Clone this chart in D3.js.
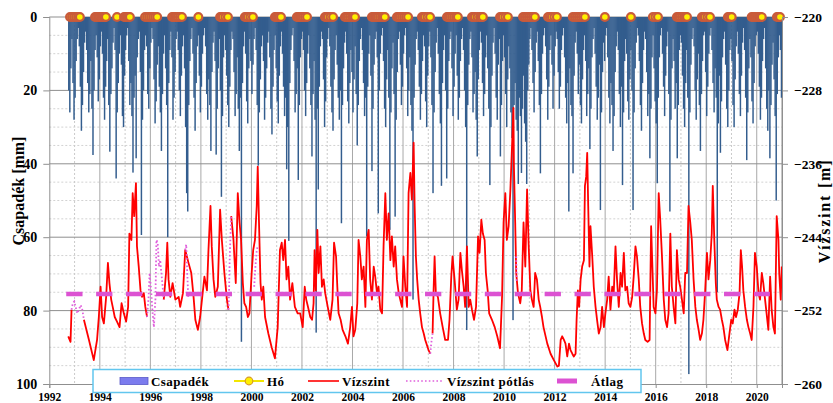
<!DOCTYPE html>
<html>
<head>
<meta charset="utf-8">
<script src="https://cdn.jsdelivr.net/npm/d3@7/dist/d3.min.js"></script>
<style>
  html, body { margin: 0; padding: 0; background: #fff; }
  svg { display: block; }
  text { font-family: "Liberation Serif", "Times New Roman", serif; font-weight: bold; fill: #000; }
</style>
</head>
<body>
<svg id="chart" width="833" height="403"></svg>
<script>
// ---- Data -------------------------------------------------------------

// Half-monthly maximum daily precipitation [mm], starting October 1992.
const precipStart = 1992.75;
const precipStep = 1 / 24;
const precipitation = [
  // 1992 (Oct-Dec)
  20, 26, 14, 6, 18, 28,
  // 1993
  22, 12, 6, 3, 8, 19, 31, 24, 15, 7, 4, 9, 18, 26, 21, 12, 25, 37.6, 20, 9, 5, 11, 23, 17,
  // 1994
  8, 4, 10, 22, 28, 19, 12, 6, 24, 36.7, 21, 14, 7, 3, 9, 44, 26, 18, 10, 5, 13, 27, 30, 16,
  // 1995
  9, 5, 3, 12, 24, 18, 27, 42.4, 22, 16, 38.5, 11, 6, 4, 15, 59.4, 28, 20, 9, 5, 8, 21, 25, 14,
  // 1996
  7, 3, 6, 17, 29, 23, 13, 8, 19, 26, 36.5, 21, 10, 5, 14, 24, 60, 18, 9, 4, 11, 28, 22, 15,
  // 1997
  6, 4, 9, 20, 27, 16, 8, 5, 14, 30, 48, 53, 24, 12, 6, 3, 10, 22, 31, 18, 8, 5, 16, 26,
  // 1998
  19, 10, 5, 3, 8, 21, 28, 17, 24, 36.5, 15, 7, 4, 12, 37.5, 25, 14, 6, 20, 49, 27, 11, 5, 9,
  // 1999
  16, 24, 30, 19, 9, 4, 6, 15, 27, 21, 11, 25, 36.5, 22, 88.5, 18, 8, 4, 10, 23, 29, 14, 6, 12,
  // 2000
  21, 13, 6, 3, 9, 24, 40.5, 26, 17, 8, 5, 12, 28, 22, 14, 7, 4, 11, 25, 32, 19, 9, 5, 14,
  // 2001
  23, 29, 16, 8, 4, 10, 19, 27, 22, 41.5, 30, 61, 18, 9, 5, 3, 12, 26, 21, 14, 44.4, 24, 11, 6,
  // 2002
  4, 9, 20, 27, 18, 10, 5, 14, 24, 38, 21, 12, 28, 86, 25, 47, 19, 8, 4, 6, 17, 30, 23, 11,
  // 2003
  6, 3, 8, 19, 26, 31, 17, 9, 5, 13, 22, 28, 20, 56.2, 24, 14, 7, 4, 10, 23, 29, 18, 9, 15,
  // 2004
  26, 17, 8, 21, 35, 24, 12, 6, 3, 9, 18, 27, 22, 59.8, 19, 10, 5, 16, 42, 25, 13, 6, 4, 11,
  // 2005
  53.5, 20, 10, 5, 3, 12, 25, 30, 17, 9, 22, 58, 26, 14, 7, 21, 54.4, 28, 15, 6, 4, 13, 24, 19,
  // 2006
  10, 5, 3, 14, 27, 20, 11, 24, 31, 77, 22, 13, 6, 4, 9, 19, 28, 21, 12, 5, 8, 23, 30, 16,
  // 2007
  8, 4, 11, 24, 48, 26, 15, 7, 3, 10, 21, 29, 46, 18, 9, 5, 20, 44, 25, 12, 6, 4, 14, 27,
  // 2008
  19, 10, 5, 16, 28, 22, 12, 6, 3, 9, 20, 30, 85.3, 24, 13, 6, 4, 11, 26, 21, 15, 28, 38, 17,
  // 2009
  9, 4, 7, 18, 27, 21, 11, 5, 14, 25, 45.8, 30, 16, 7, 3, 10, 22, 28, 13, 6, 38, 24, 12, 5,
  // 2010
  11, 21, 30, 17, 8, 14, 26, 33, 82.6, 24, 18, 28, 31, 45.5, 22, 27, 42.5, 25, 16, 29, 34, 45.5, 20, 13,
  // 2011
  6, 3, 9, 18, 26, 15, 7, 4, 12, 24, 42.6, 21, 10, 5, 3, 8, 17, 28, 19, 9, 5, 13, 25, 16,
  // 2012
  8, 4, 6, 15, 25, 19, 9, 5, 3, 11, 22, 29, 18, 53, 14, 24, 27, 42.6, 16, 7, 4, 10, 21, 13,
  // 2013
  24, 29, 17, 9, 5, 12, 27, 21, 14, 36, 25, 11, 6, 3, 10, 19, 28, 22, 13, 52.6, 26, 15, 7, 12,
  // 2014
  5, 3, 11, 22, 29, 18, 24, 36.5, 27, 15, 8, 4, 9, 21, 30, 19, 45.8, 26, 12, 6, 10, 23, 28, 17,
  // 2015
  9, 20, 52.6, 26, 14, 7, 3, 5, 12, 24, 31, 18, 9, 4, 6, 15, 27, 21, 38.5, 25, 11, 5, 14, 23,
  // 2016
  29, 45.3, 22, 11, 5, 3, 10, 19, 27, 16, 8, 4, 21, 53, 28, 14, 6, 12, 25, 18, 38.5, 24, 9, 5,
  // 2017
  7, 16, 25, 30, 18, 9, 22, 97.3, 26, 13, 6, 3, 8, 20, 28, 17, 10, 24, 36.5, 21, 12, 5, 4, 15,
  // 2018
  27, 19, 10, 5, 3, 9, 18, 26, 14, 22, 75, 29, 16, 37, 23, 11, 6, 4, 13, 25, 30, 20, 9, 6,
  // 2019
  12, 24, 30, 17, 8, 4, 10, 21, 27, 16, 7, 3, 9, 22, 39, 26, 14, 6, 11, 23, 29, 18, 8, 5,
  // 2020
  4, 10, 19, 28, 22, 12, 6, 3, 14, 25, 31, 20, 38.5, 24, 13, 7, 17, 27, 50, 21, 11, 5, 9, 22
];

// Days with snow cover (decimal year); plotted on the zero line.
const snowDays = [
  1992.82, 1992.90, 1992.98, 1993.06, 1993.14, 1993.21,
  1993.81, 1993.87, 1993.93, 1993.99, 1994.05, 1994.10, 1994.16, 1994.20, 1994.24,
  1994.68,
  1994.96, 1995.02, 1995.07, 1995.13, 1995.19,
  1995.79, 1995.87, 1995.95, 1996.03, 1996.11, 1996.19, 1996.27,
  1996.86, 1996.92, 1996.98, 1997.03, 1997.09, 1997.17, 1997.25,
  1997.90,
  1998.76, 1998.81, 1998.87, 1998.97, 1999.07,
  1999.74, 1999.80, 1999.86, 1999.96, 2000.06,
  2000.93, 2000.98, 2001.04, 2001.10, 2001.17,
  2001.80, 2001.86, 2001.92, 2001.98, 2002.04, 2002.12, 2002.20,
  2002.91, 2002.97, 2003.03, 2003.13, 2003.23,
  2003.70, 2003.76, 2003.82, 2003.90, 2003.98, 2004.04, 2004.10,
  2004.77, 2004.83, 2004.89, 2004.95, 2005.01, 2005.09, 2005.17, 2005.22, 2005.28,
  2005.76, 2005.82, 2005.88, 2005.96, 2006.04, 2006.12, 2006.20,
  2006.75, 2006.81, 2006.87, 2006.97, 2007.07,
  2007.74, 2007.80, 2007.86, 2007.94, 2008.02, 2008.10, 2008.17,
  2008.73, 2008.79, 2008.85, 2008.95, 2009.05, 2009.10, 2009.16,
  2009.84, 2009.90, 2009.95, 2010.05, 2010.15,
  2010.75, 2010.82, 2010.90, 2010.98, 2011.06, 2011.14, 2011.22,
  2011.74, 2011.81, 2011.89, 2011.99, 2012.09,
  2012.72, 2012.80, 2012.88, 2012.96, 2013.04, 2013.12, 2013.20,
  2013.99,
  2015.02,
  2015.89, 2015.99, 2016.09,
  2016.84, 2016.90, 2016.96, 2017.04, 2017.12, 2017.18, 2017.24,
  2017.83, 2017.89, 2017.95, 2018.05, 2018.15,
  2018.86, 2018.93, 2019.01,
  2019.80, 2019.86, 2019.92, 2020.00, 2020.08, 2020.14, 2020.20,
  2020.80, 2020.86, 2020.92
];

// Measured water level [m] (decimal year, level); null marks missing records.
const waterLevel = [
  [1992.75,-254.8],[1992.84,-255.4],[1992.88,-251.9],[1993.10,null],
  [1993.37,-253.0],[1993.57,-255.2],[1993.76,-257.4],[1993.89,-255.2],[1993.96,-252.7],[1994.03,-249.4],
  [1994.09,-252.7],[1994.16,-253.4],[1994.25,-250.5],[1994.32,-246.8],[1994.38,-249.0],[1994.45,-250.8],
  [1994.51,-251.6],[1994.59,-252.7],[1994.68,-253.2],[1994.78,-253.8],[1994.86,-251.2],[1994.95,-252.3],
  [1995.04,-253.2],[1995.12,-251.6],[1995.17,-243.6],[1995.25,-244.3],[1995.30,-239.2],[1995.36,-241.7],
  [1995.43,-238.1],[1995.47,-245.0],[1995.54,-247.2],[1995.61,-249.8],[1995.67,-250.5],[1995.74,-250.1],
  [1995.80,-251.6],[1995.87,-252.7],[1996.20,null],
  [1996.53,-250.8],[1996.62,-247.9],[1996.67,-244.6],[1996.72,-248.6],[1996.79,-250.5],[1996.88,-249.0],
  [1996.99,-250.8],[1997.12,-250.5],[1997.18,-251.6],[1997.29,-250.1],[1997.38,-245.4],[1997.51,-246.8],
  [1997.62,-247.9],[1997.71,-250.5],[1997.78,-253.0],[1997.88,-254.1],[1997.97,-252.7],[1998.07,-250.1],
  [1998.14,-248.3],[1998.24,-249.8],[1998.30,-245.4],[1998.38,-240.6],[1998.43,-245.0],[1998.50,-248.6],
  [1998.57,-250.5],[1998.67,-249.4],[1998.76,-241.0],[1998.83,-244.3],[1998.93,-247.9],[1999.03,-250.8],
  [1999.09,-251.9],[1999.15,null],
  [1999.20,-241.7],[1999.29,-244.3],[1999.38,-249.0],[1999.46,-239.2],[1999.53,-242.4],[1999.59,-244.3],
  [1999.66,-249.0],[1999.72,-251.2],[1999.79,-251.6],[1999.86,-252.7],[1999.92,-252.3],[2000.01,-247.9],
  [2000.07,-245.4],[2000.14,-244.3],[2000.21,-240.6],[2000.25,-236.3],[2000.30,-242.4],[2000.36,-249.0],
  [2000.41,-250.8],[2000.47,-249.4],[2000.54,-252.7],[2000.67,-254.5],[2000.80,-256.0],[2000.93,-257.2],
  [2001.04,-253.8],[2001.13,-245.4],[2001.20,-244.6],[2001.26,-246.5],[2001.33,-244.3],[2001.39,-248.6],
  [2001.46,-247.2],[2001.53,-250.8],[2001.62,-249.0],[2001.72,-251.6],[2001.83,-252.3],[2001.93,-252.3],
  [2002.03,-253.8],[2002.11,-249.4],[2002.17,-250.8],[2002.24,-251.6],[2002.33,-252.7],[2002.40,-253.0],
  [2002.46,-251.2],[2002.50,-245.4],[2002.55,-249.8],[2002.61,-243.2],[2002.66,-247.9],[2002.73,-245.0],
  [2002.79,-249.4],[2002.86,-248.6],[2002.92,-250.1],[2003.02,-251.6],[2003.12,-253.0],[2003.21,-250.8],
  [2003.27,-244.6],[2003.35,-246.1],[2003.40,-249.4],[2003.45,-252.3],[2003.53,-253.0],[2003.61,-254.1],
  [2003.72,-254.8],[2003.82,-255.6],[2003.91,-253.8],[2003.98,-251.6],[2004.04,-254.8],[2004.11,-254.1],
  [2004.19,-251.2],[2004.24,-244.3],[2004.31,-246.1],[2004.37,-248.6],[2004.44,-247.2],[2004.51,-251.6],
  [2004.57,-244.3],[2004.64,-243.2],[2004.70,-248.6],[2004.77,-250.8],[2004.84,-247.2],[2004.90,-248.3],
  [2004.97,-250.1],[2005.03,-249.4],[2005.10,-251.9],[2005.17,-252.3],[2005.23,-245.0],[2005.30,-239.2],
  [2005.36,-244.3],[2005.43,-241.4],[2005.50,-246.5],[2005.56,-243.9],[2005.63,-247.2],[2005.69,-245.0],
  [2005.76,-248.6],[2005.83,-250.1],[2005.89,-250.8],[2005.96,-251.6],[2006.02,-246.1],[2006.09,-249.4],
  [2006.16,-251.6],[2006.22,-239.2],[2006.29,-237.0],[2006.35,-239.9],[2006.42,-233.7],[2006.46,-240.6],
  [2006.51,-246.1],[2006.56,-248.6],[2006.62,-250.8],[2006.68,-252.3],[2006.75,-253.8],[2006.82,-254.5],
  [2006.88,-255.2],[2007.01,-256.3],[2007.08,-256.7],[2007.12,null],
  [2007.17,-254.5],[2007.21,-249.8],[2007.25,-246.1],[2007.30,-250.1],[2007.38,-250.5],[2007.47,-252.3],
  [2007.57,-253.8],[2007.67,-255.2],[2007.78,-255.2],[2007.84,-253.0],[2007.91,-248.3],[2007.96,-246.1],
  [2008.04,-248.6],[2008.13,-251.9],[2008.20,-250.8],[2008.27,-245.7],[2008.33,-247.6],[2008.40,-249.4],
  [2008.46,-251.6],[2008.53,-245.0],[2008.60,-251.6],[2008.66,-250.8],[2008.73,-251.9],[2008.81,-253.0],
  [2008.89,-251.6],[2008.97,-243.9],[2009.03,-245.7],[2009.10,-242.1],[2009.16,-243.6],[2009.23,-244.3],
  [2009.28,-247.9],[2009.35,-249.8],[2009.41,-252.3],[2009.52,-253.0],[2009.63,-253.8],[2009.73,-254.8],
  [2009.84,-256.1],[2009.92,-250.5],[2009.98,-242.4],[2010.05,-239.2],[2010.11,-244.3],[2010.18,-242.8],
  [2010.25,-238.8],[2010.31,-234.4],[2010.37,-229.9],[2010.39,-236.3],[2010.44,-242.4],[2010.48,-247.9],
  [2010.55,-250.1],[2010.64,-251.2],[2010.70,-249.8],[2010.77,-242.4],[2010.84,-247.2],[2010.91,-238.8],
  [2010.97,-244.6],[2011.04,-249.8],[2011.10,-250.8],[2011.17,-251.6],[2011.23,-247.9],[2011.30,-248.6],
  [2011.37,-250.8],[2011.43,-251.6],[2011.50,-252.7],[2011.56,-253.8],[2011.71,-255.6],[2011.84,-256.7],
  [2011.97,-257.4],[2012.11,-258.1],[2012.17,-258.0],[2012.24,-255.2],[2012.30,-254.8],[2012.37,-255.2],
  [2012.43,-255.6],[2012.50,-257.0],[2012.57,-255.6],[2012.63,-256.3],[2012.70,-256.7],[2012.76,-257.0],
  [2012.83,-256.7],[2012.87,-253.0],[2012.92,-249.8],[2012.97,-251.6],[2013.03,-248.6],[2013.09,-247.2],
  [2013.16,-246.5],[2013.20,-238.4],[2013.25,-237.4],[2013.29,-234.8],[2013.33,-240.6],[2013.38,-247.2],
  [2013.42,-242.8],[2013.49,-246.1],[2013.55,-249.4],[2013.62,-251.6],[2013.68,-253.0],[2013.75,-254.5],
  [2013.82,-253.8],[2013.88,-251.6],[2013.95,-253.8],[2014.01,-252.3],[2014.08,-250.8],[2014.14,-248.3],
  [2014.21,-251.9],[2014.28,-249.4],[2014.34,-250.1],[2014.41,-245.0],[2014.47,-248.6],[2014.54,-251.6],
  [2014.61,-247.9],[2014.67,-249.4],[2014.74,-245.7],[2014.80,-249.8],[2014.87,-249.4],[2014.93,-251.2],
  [2015.00,-251.6],[2015.07,-250.5],[2015.13,-248.3],[2015.20,-245.0],[2015.26,-246.1],[2015.33,-248.6],
  [2015.39,-251.6],[2015.46,-253.4],[2015.53,-254.5],[2015.59,-255.2],[2015.68,-255.4],[2015.76,-255.2],
  [2015.82,-242.8],[2015.87,-247.2],[2015.92,-251.6],[2015.99,-252.3],[2016.05,-249.8],[2016.12,-239.2],
  [2016.18,-242.1],[2016.25,-246.1],[2016.32,-250.8],[2016.38,-253.0],[2016.45,-253.8],[2016.51,-252.3],
  [2016.58,-243.6],[2016.64,-249.4],[2016.71,-251.6],[2016.78,-253.4],[2016.84,-245.4],[2016.91,-248.6],
  [2016.97,-249.4],[2017.04,-250.8],[2017.11,-252.3],[2017.17,-247.9],[2017.24,-247.9],[2017.30,-240.6],
  [2017.37,-242.4],[2017.43,-244.3],[2017.50,-248.6],[2017.57,-251.6],[2017.63,-253.0],[2017.70,-254.1],
  [2017.76,-255.2],[2017.83,-254.5],[2017.89,-253.0],[2017.96,-249.8],[2018.03,-245.7],[2018.09,-248.6],
  [2018.16,-246.5],[2018.22,-243.6],[2018.26,-238.4],[2018.32,-244.3],[2018.38,-249.0],[2018.42,-250.8],
  [2018.49,-251.6],[2018.55,-251.9],[2018.62,-253.0],[2018.68,-253.8],[2018.75,-255.2],[2018.84,-256.3],
  [2018.92,-254.5],[2018.99,-253.0],[2019.05,-253.4],[2019.12,-251.9],[2019.18,-252.7],[2019.25,-251.9],
  [2019.32,-250.1],[2019.37,-245.4],[2019.42,-247.2],[2019.47,-249.8],[2019.54,-251.6],[2019.61,-253.0],
  [2019.67,-253.8],[2019.74,-254.5],[2019.80,-255.2],[2019.87,-251.6],[2019.93,-245.7],[2020.00,-247.2],
  [2020.07,-250.1],[2020.13,-250.8],[2020.20,-247.9],[2020.26,-249.0],[2020.33,-250.8],[2020.39,-252.3],
  [2020.46,-254.1],[2020.53,-248.3],[2020.59,-251.9],[2020.66,-253.8],[2020.72,-254.5],[2020.79,-241.7],
  [2020.86,-244.3],[2020.89,-247.9],[2020.95,-250.8],[2020.99,-247.2]
];

// Supplemented (estimated) water level for the gaps [m].
const waterLevelFilled = [
  [1992.88,-251.9],[1992.93,-251.2],[1992.99,-251.0],[1993.04,-251.6],[1993.11,-252.3],[1993.17,-251.9],
  [1993.24,-251.4],[1993.30,-251.8],[1993.37,-253.0],[1993.40,null],
  [1995.87,-252.7],[1995.93,-250.5],[1995.97,-247.9],[1996.03,-249.8],[1996.09,-252.3],[1996.14,-253.8],
  [1996.20,-250.8],[1996.24,-244.3],[1996.29,-244.6],[1996.34,-247.2],[1996.39,-246.5],[1996.46,-248.6],
  [1996.53,-250.8],[1996.60,null],
  [1997.38,-245.4],[1997.42,-244.8],[1997.46,-247.9],[1997.50,-250.5],[1997.55,null],
  [1999.09,-251.9],[1999.11,-250.5],[1999.14,-246.5],[1999.17,-243.9],[1999.20,-241.7],[1999.25,null],
  [2000.11,-249.4],[2000.14,-247.9],[2000.20,-245.7],[2000.24,-245.0],[2000.28,null],
  [2007.08,-256.7],[2007.12,-255.5],[2007.17,-254.5],[2007.20,null],
  [2010.48,-246.1],[2010.49,-247.5],[2010.50,-249.0]
];

// Long-term mean water level [m] and the period it is drawn for.
const meanLevel = -250.2;
const meanPeriod = [1992.67, 2020.52];

// Axis ticks.
const precipTicks = [0, 20, 40, 60, 80, 100];
const levelTicks = [-220, -228, -236, -244, -252, -260];
const yearTicks = [1992, 1994, 1996, 1998, 2000, 2002, 2004, 2006, 2008, 2010, 2012, 2014, 2016, 2018, 2020];

// Legend entries.
const legendItems = ["Csapadék", "Hó", "Vízszint", "Vízszint pótlás", "Átlag"];

// ---- Layout ----------------------------------------------------------
const svg = d3.select("#chart");
const plotL = 49.3, plotR = 782, plotT = 17, plotB = 384;

const x = d3.scaleLinear().domain([1992, 2021]).range([plotL, plotR]);
const yP = d3.scaleLinear().domain([0, 100]).range([plotT, plotB]);
const yW = d3.scaleLinear().domain([-220, -260]).range([plotT, plotB]);

const COL = {
  bar: "#335d8e",
  snowFill: "#fff000",
  snowStroke: "#c95b3b",
  level: "#ff0000",
  fill: "#e060dc",
  mean: "#dc52d2",
  grid: "#8f8f8f",
  gridMinor: "#d2d2d2",
  gridYear: "#a8a8a8"
};

// ---- Grid -------------------------------------------------------------
const grid = svg.append("g");
const minorLevels = d3.range(5, 100, 5).filter(v => v % 20 !== 0);
grid.selectAll("line.minor").data(minorLevels).join("line")
  .attr("x1", plotL).attr("x2", plotR)
  .attr("y1", d => yP(d)).attr("y2", d => yP(d))
  .attr("stroke", COL.gridMinor).attr("stroke-dasharray", "2,2");

const years = d3.range(1993, 2021);
grid.selectAll("line.year").data(years).join("line")
  .attr("x1", d => x(d)).attr("x2", d => x(d))
  .attr("y1", plotT).attr("y2", plotB)
  .attr("stroke", d => d % 2 === 0 ? COL.gridYear : "#cacaca")
  .attr("stroke-dasharray", d => d % 2 === 0 ? null : "2,2");

grid.selectAll("line.major").data(precipTicks.slice(0, -1)).join("line")
  .attr("x1", plotL).attr("x2", plotR)
  .attr("y1", d => yP(d)).attr("y2", d => yP(d))
  .attr("stroke", COL.grid);

grid.append("line")
  .attr("x1", plotR).attr("x2", plotR).attr("y1", plotT).attr("y2", plotB)
  .attr("stroke", COL.grid);

// ---- Precipitation bars (hanging from the top) ----------------------
const barW = x(precipStart + precipStep) - x(precipStart);
svg.append("g").selectAll("rect").data(precipitation).join("rect")
  .attr("x", (d, i) => x(precipStart + i * precipStep) - barW * 0.2)
  .attr("width", barW * 1.4)
  .attr("y", yP(0))
  .attr("height", d => yP(d) - yP(0))
  .attr("fill", COL.bar);

// ---- Water level -----------------------------------------------------
const levelLine = d3.line()
  .defined(d => d[1] !== null)
  .x(d => x(d[0]))
  .y(d => yW(d[1]));

svg.append("path").datum(waterLevel)
  .attr("d", levelLine)
  .attr("fill", "none").attr("stroke", COL.level)
  .attr("stroke-width", 1.8).attr("stroke-linejoin", "round");

svg.append("path").datum(waterLevelFilled)
  .attr("d", levelLine)
  .attr("fill", "none").attr("stroke", COL.fill)
  .attr("stroke-width", 1.8).attr("stroke-dasharray", "1.6,2.2");

// Mean level, dashed.
svg.append("path").datum(meanPeriod.map(t => [t, meanLevel]))
  .attr("d", levelLine)
  .attr("fill", "none").attr("stroke", COL.mean)
  .attr("stroke-width", 4.5).attr("stroke-dasharray", "16.3,13.6");

// ---- Snow markers ----------------------------------------------------
svg.append("g").selectAll("circle").data(snowDays).join("circle")
  .attr("cx", d => x(d)).attr("cy", yP(0)).attr("r", 3.9)
  .attr("fill", COL.snowFill).attr("stroke", COL.snowStroke).attr("stroke-width", 2.2);

// ---- Axes -------------------------------------------------------------
function styleAxis(g, size) {
  g.selectAll(".domain").attr("stroke", COL.grid);
  g.selectAll(".tick line").attr("stroke", COL.grid);
  g.selectAll(".tick text")
    .attr("fill", "#000")
    .style("font-family", '"Liberation Serif", "Times New Roman", serif')
    .style("font-weight", "bold")
    .style("font-size", size + "px");
}

svg.append("g").attr("transform", `translate(${plotL},0)`)
  .call(d3.axisLeft(yP).tickValues(precipTicks).tickSize(6).tickPadding(6))
  .call(g => styleAxis(g, 14));

svg.append("g").attr("transform", `translate(${plotR},0)`)
  .call(d3.axisRight(yW).tickValues(levelTicks).tickSize(6).tickPadding(6))
  .call(g => styleAxis(g, 13.5));

svg.append("g").attr("transform", `translate(0,${plotB})`)
  .call(d3.axisBottom(x).tickValues(yearTicks).tickFormat(d3.format("d")).tickSize(4).tickPadding(5))
  .call(g => styleAxis(g, 11.5));

// Axis titles
svg.append("text")
  .attr("transform", "translate(24,191) rotate(-90)")
  .attr("text-anchor", "middle")
  .style("font-size", "16px")
  .text("Csapadék [mm]");

svg.append("text")
  .attr("transform", "translate(830,211) rotate(-90)")
  .attr("text-anchor", "middle")
  .style("font-size", "16px")
  .style("letter-spacing", "1.8px")
  .text("Vízszint [m]");

// ---- Legend ------------------------------------------------------------
const lg = svg.append("g");
lg.append("rect")
  .attr("x", 93).attr("y", 369.5).attr("width", 548).attr("height", 23)
  .attr("fill", "#fff").attr("stroke", "#62c6ee").attr("stroke-width", 1.5);

const ly = 381;
// Csapadék swatch
lg.append("rect").attr("x", 120).attr("y", ly - 3.5).attr("width", 28).attr("height", 7)
  .attr("fill", "#7c7cee").attr("stroke", "#5a5ac8").attr("stroke-width", 0.8);
// Hó swatch
lg.append("line").attr("x1", 234).attr("x2", 264).attr("y1", ly).attr("y2", ly)
  .attr("stroke", "#f2e600").attr("stroke-width", 2);
lg.append("circle").attr("cx", 249).attr("cy", ly).attr("r", 3.8)
  .attr("fill", COL.snowFill).attr("stroke", "#d79a2a").attr("stroke-width", 1.2);
// Vízszint swatch
lg.append("line").attr("x1", 308).attr("x2", 339).attr("y1", ly).attr("y2", ly)
  .attr("stroke", COL.level).attr("stroke-width", 1.6);
// Vízszint pótlás swatch
lg.append("line").attr("x1", 406).attr("x2", 443).attr("y1", ly).attr("y2", ly)
  .attr("stroke", COL.fill).attr("stroke-width", 1.6).attr("stroke-dasharray", "1.6,2.2");
// Átlag swatch
lg.append("line").attr("x1", 557).attr("x2", 577).attr("y1", ly).attr("y2", ly)
  .attr("stroke", COL.mean).attr("stroke-width", 5);

const labelX = [151, 267, 342, 447, 591];
lg.selectAll("text.lbl").data(legendItems).join("text")
  .attr("x", (d, i) => labelX[i]).attr("y", ly + 4.5)
  .style("font-size", "13px")
  .style("letter-spacing", "0.4px")
  .text(d => d);
</script>
</body>
</html>
